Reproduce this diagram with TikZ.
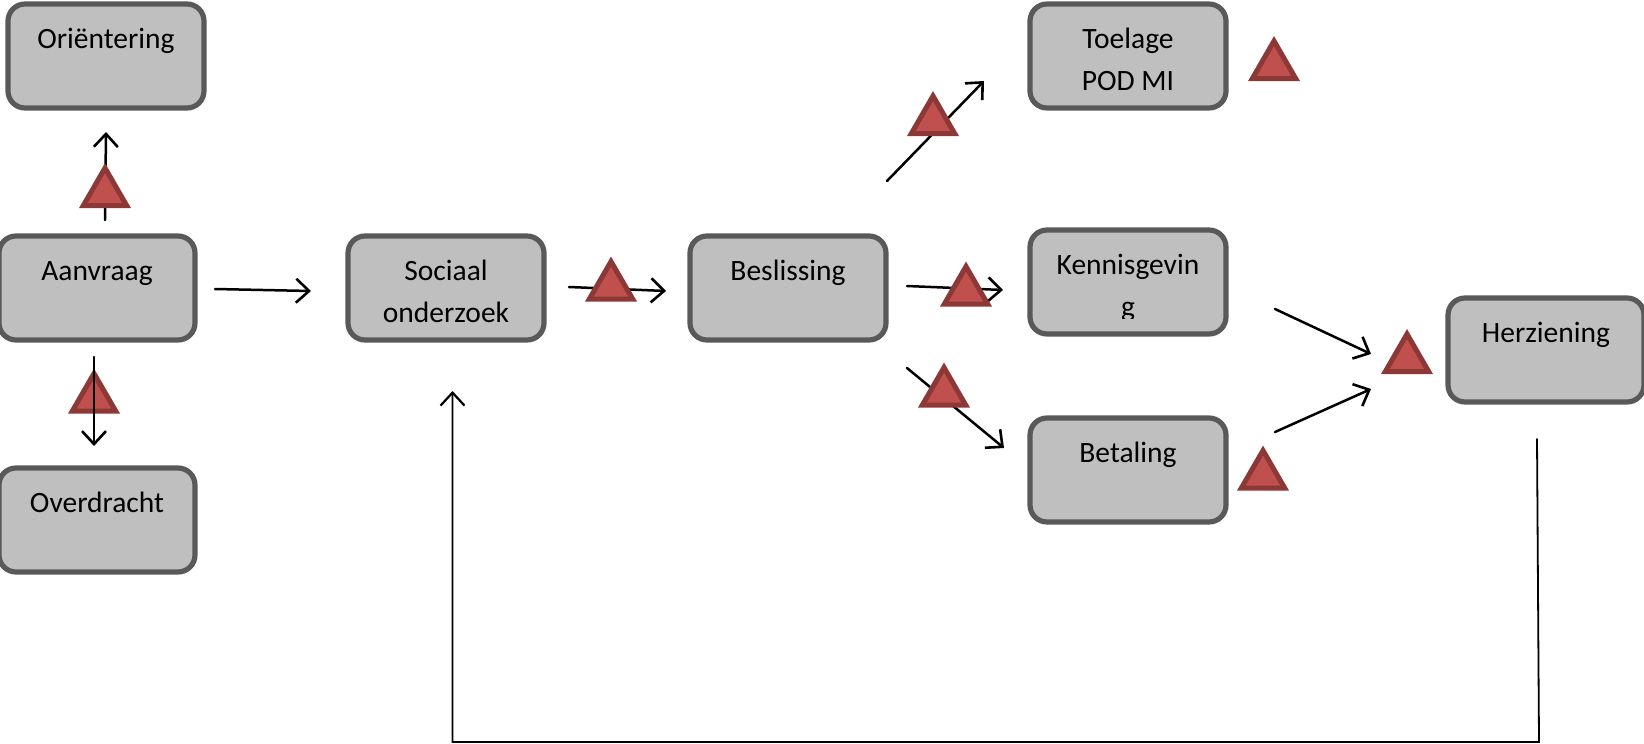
\documentclass[tikz,border=0pt]{standalone}
\usepackage{fontspec}
\setmainfont{Carlito}
\usepackage{xcolor}
\usetikzlibrary{arrows.meta, shapes.geometric}
\definecolor{BoxFill}{HTML}{BFBFBF}
\definecolor{BoxDraw}{HTML}{595959}
\definecolor{WarnFill}{HTML}{C0504D}
\definecolor{WarnDraw}{HTML}{8C3836}
\tikzset{
	stap/.style={draw=BoxDraw, fill=BoxFill, line width=5.2pt, rounded corners=17pt, minimum width=196pt, minimum height=104pt, inner sep=0pt, align=center, text height=75pt, text depth=7pt, font=\fontsize{29.5}{42}\selectfont},
	gevaar/.style={regular polygon, regular polygon sides=3, draw=WarnDraw, fill=WarnFill, line width=5pt, minimum size=50pt, inner sep=0pt, outer sep=0pt},
	pijl/.style={line width=2.5pt, -{Straight Barb[length=13pt, width=24pt, line width=2.6pt]}}
}

\begin{document}
\begin{tikzpicture}[x=1pt, y=-1pt, line cap=round]
	\useasboundingbox (0,0) rectangle (1644,744);

	\coordinate (Aup) at (105,220);
	\coordinate (Oin) at (106,132);
	\coordinate (Aout) at (215,289);
	\coordinate (Sin) at (311,291);
	\coordinate (Aoutb) at (94,357);
	\coordinate (Vin) at (94,446);
	\coordinate (Sout) at (569,287);
	\coordinate (Bin) at (666,291);
	\coordinate (Bouta) at (887,181);
	\coordinate (Tin) at (984,81);
	\coordinate (Boutb) at (907,286);
	\coordinate (Kin) at (1003,290);
	\coordinate (Boutc) at (907,368);
	\coordinate (Lin) at (1004,448);
	\coordinate (Kout) at (1275,309);
	\coordinate (Hina) at (1371,354);
	\coordinate (Lout) at (1275,432);
	\coordinate (Hinb) at (1371,389);
	\coordinate (Hout) at (1537,439);
	\coordinate (HoekR) at (1539,742);
	\coordinate (HoekL) at (452.5,742);
	\coordinate (Sinb) at (452.5,391);

	\node[stap] (Orientering) at (106,56) {Oriëntering\\~};
	\node[stap] (Aanvraag) at (97,288) {Aanvraag\\~};
	\node[stap] (Overdracht) at (97,520) {Overdracht\\~};
	\node[stap] (Sociaal) at (446,288) {Sociaal\\onderzoek};
	\node[stap] (Beslissing) at (788,288) {Beslissing\\~};
	\node[stap] (Toelage) at (1128,56) {Toelage\\POD MI};
	\node[stap] (Kennisgeving) at (1128,282) {Kennisgevin\\g};
	\node[stap] (Betaling) at (1128,470) {Betaling\\~};
	\node[stap] (Herziening) at (1546,350) {Herziening\\~};

	% onderkant van de g valt weg
	\fill[BoxFill] (1110,318.5) rectangle (1150,330);

	\draw[pijl] (Aup) -- (Oin);
	\draw[pijl] (Aout) -- (Sin);
	\draw[pijl] (Sout) -- (Bin);
	\draw[pijl] (Bouta) -- (Tin);
	\draw[pijl] (Boutb) -- (Kin);
	\draw[pijl] (Boutc) -- (Lin);
	\draw[pijl] (Kout) -- (Hina);
	\draw[pijl] (Lout) -- (Hinb);
	\draw[line width=1.8pt, -{Straight Barb[length=13pt, width=24pt, line width=2.2pt]}] (Hout) -- (HoekR) -- (HoekL) -- (Sinb);

	\node[gevaar] (G1) at (105,193) {};
	\node[gevaar] (G2) at (611,286.5) {};
	\node[gevaar] (G3) at (933,121) {};
	\node[gevaar] (G4) at (1274,66) {};
	\node[gevaar] (G5) at (966,291.5) {};
	\node[gevaar] (G6) at (944,392.5) {};
	\node[gevaar] (G7) at (1407,359) {};
	\node[gevaar] (G8) at (1263,475.5) {};
	\node[gevaar] (G9) at (94,398.5) {};

	% deze pijl ligt boven de driehoek
	\draw[pijl] (Aoutb) -- (Vin);
\end{tikzpicture}
\end{document}
